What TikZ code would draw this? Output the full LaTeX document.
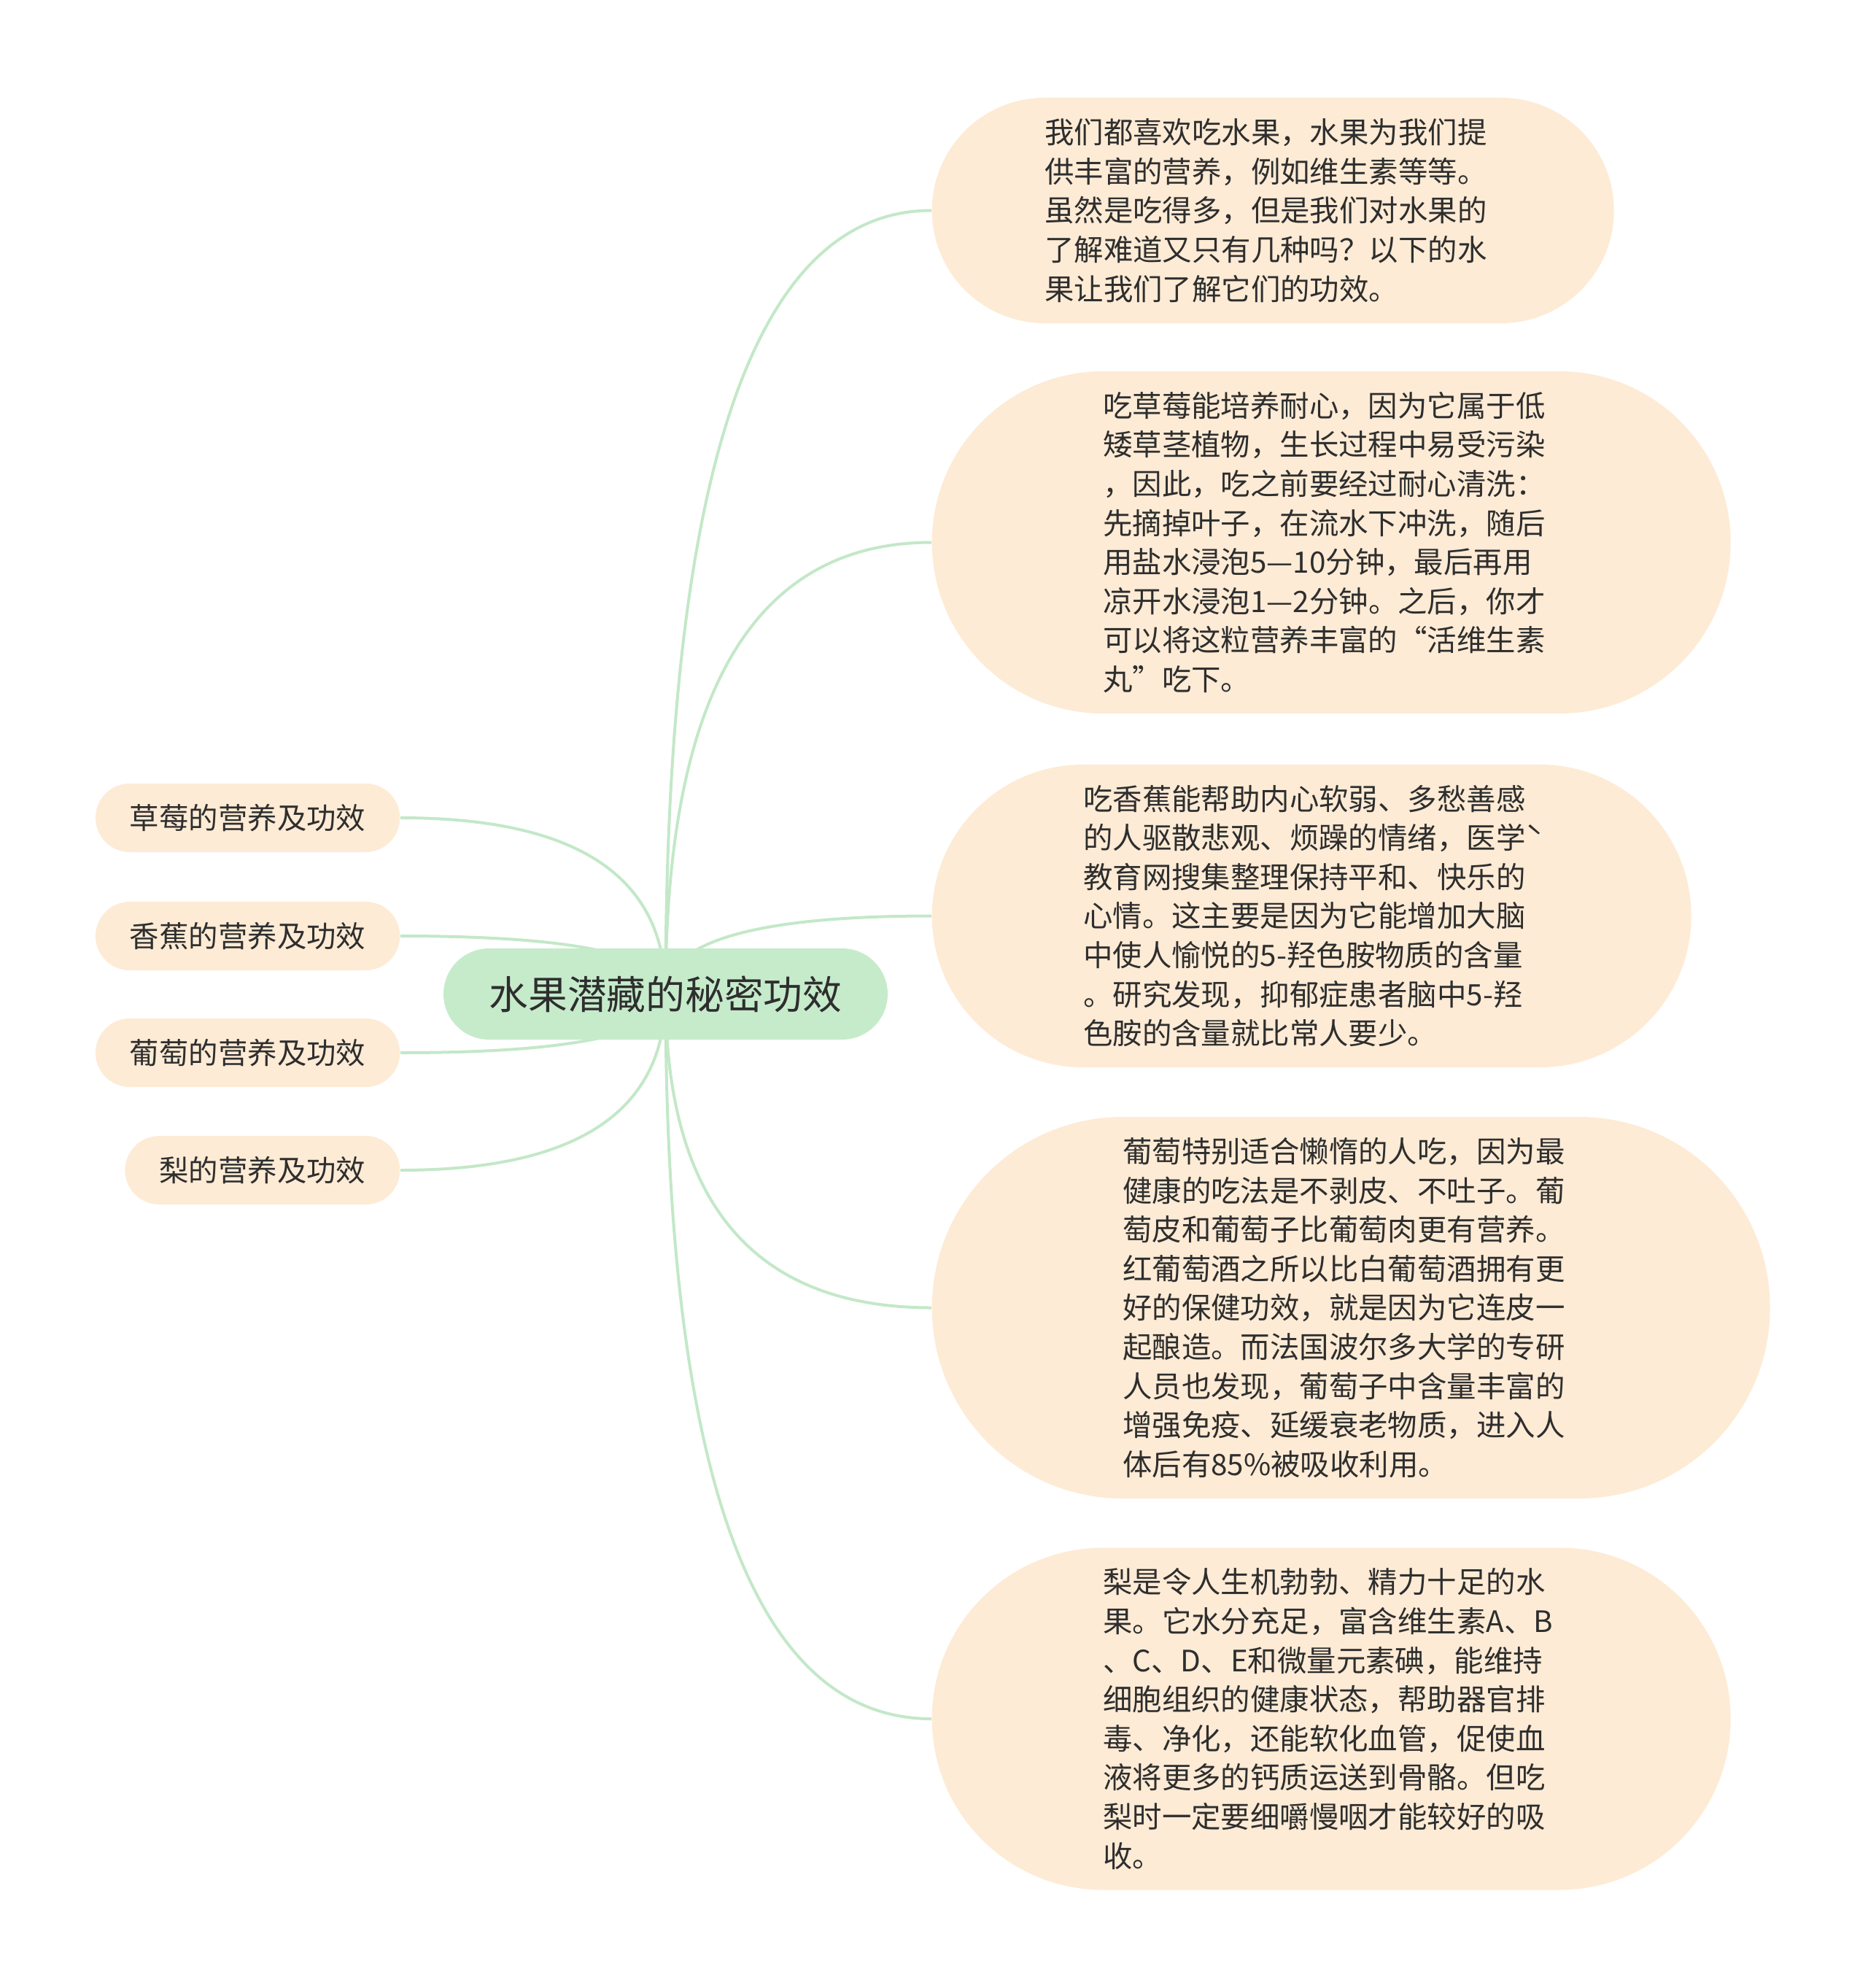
\documentclass[tikz,border=0pt]{standalone}
\usepackage{fontspec}
\setmainfont{Noto Sans CJK SC}
\usetikzlibrary{calc,backgrounds,positioning}
\definecolor{rootgreen}{HTML}{C6EBCB}
\definecolor{leafpeach}{HTML}{FDEBD5}
\definecolor{linkgreen}{HTML}{C3E8C8}
\definecolor{inkgray}{HTML}{2E2E2E}

\begin{document}
\begin{tikzpicture}[
    topic/.style={
        rectangle,
        rounded corners=0.625cm,
        minimum height=1.25cm,
        fill=rootgreen,
        text=inkgray,
        inner xsep=0.625cm,
        inner ysep=0.2cm,
        font=\fontsize{15.3pt}{18pt}\selectfont,
    },
    subtopic/.style={
        rectangle,
        rounded corners=0.47cm,
        minimum height=0.94cm,
        fill=leafpeach,
        text=inkgray,
        inner xsep=0.47cm,
        inner ysep=0.2cm,
        font=\fontsize{11.5pt}{15.25pt}\selectfont,
    },
    note/.style={
        subtopic,
        rounded corners=#1,
        minimum height=2*#1,
        inner xsep=#1,
        text width=6.26cm,
        align=left,
    },
    branch/.style={
        draw=linkgreen, line width=0.04cm,
        to path={.. controls ($(\tikztostart)!0.667!(\tikztostart |- \tikztotarget)$)
            and ($(\tikztotarget)!0.667!(\tikztostart |- \tikztotarget)$) .. (\tikztotarget)},
    },
]
\useasboundingbox (0,0) rectangle (25.6,-27.25);

\node[topic] (root) at (9.125,-13.625) {水果潜藏的秘密功效};

% left side
\node[subtopic, anchor=east] (strawberry) at (5.49,-11.21) {草莓的营养及功效};
\node[subtopic, anchor=east] (banana) at (5.49,-12.83) {香蕉的营养及功效};
\node[subtopic, anchor=east] (grape) at (5.49,-14.43) {葡萄的营养及功效};
\node[subtopic, anchor=east] (pear) at (5.49,-16.04) {梨的营养及功效};

% right side
\node[note=1.545cm, anchor=west] (intro) at (12.77,-2.885) {我们都喜欢吃水果，水果为我们提\\供丰富的营养，例如维生素等等。\\虽然是吃得多，但是我们对水果的\\了解难道又只有几种吗？以下的水\\果让我们了解它们的功效。};
\node[note=2.345cm, anchor=west] (strawberry_text) at (12.77,-7.435) {吃草莓能培养耐心，因为它属于低\\矮草茎植物，生长过程中易受污染\\，因此，吃之前要经过耐心清洗：\\先摘掉叶子，在流水下冲洗，随后\\用盐水浸泡5—10分钟，最后再用\\凉开水浸泡1—2分钟。之后，你才\\可以将这粒营养丰富的“活维生素\\丸”吃下。};
\node[note=2.075cm, anchor=west] (banana_text) at (12.77,-12.555) {吃香蕉能帮助内心软弱、多愁善感\\的人驱散悲观、烦躁的情绪，医学ˋ\\教育网搜集整理保持平和、快乐的\\心情。这主要是因为它能增加大脑\\中使人愉悦的5-羟色胺物质的含量\\。研究发现，抑郁症患者脑中5-羟\\色胺的含量就比常人要少。};
\node[note=2.615cm, anchor=west] (grape_text) at (12.77,-17.925) {葡萄特别适合懒惰的人吃，因为最\\健康的吃法是不剥皮、不吐子。葡\\萄皮和葡萄子比葡萄肉更有营养。\\红葡萄酒之所以比白葡萄酒拥有更\\好的保健功效，就是因为它连皮一\\起酿造。而法国波尔多大学的专研\\人员也发现，葡萄子中含量丰富的\\增强免疫、延缓衰老物质，进入人\\体后有85\%被吸收利用。};
\node[note=2.345cm, anchor=west] (pear_text) at (12.77,-23.56) {梨是令人生机勃勃、精力十足的水\\果。它水分充足，富含维生素A、B\\、C、D、E和微量元素碘，能维持\\细胞组织的健康状态，帮助器官排\\毒、净化，还能软化血管，促使血\\液将更多的钙质运送到骨骼。但吃\\梨时一定要细嚼慢咽才能较好的吸\\收。};

\begin{scope}[on background layer]
\draw[branch] (root.center) to (intro.west);
\draw[branch] (root.center) to (strawberry_text.west);
\draw[branch] (root.center) to (banana_text.west);
\draw[branch] (root.center) to (grape_text.west);
\draw[branch] (root.center) to (pear_text.west);
\draw[branch] (root.center) to (strawberry.east);
\draw[branch] (root.center) to (banana.east);
\draw[branch] (root.center) to (grape.east);
\draw[branch] (root.center) to (pear.east);
\end{scope}

\end{tikzpicture}
\end{document}
